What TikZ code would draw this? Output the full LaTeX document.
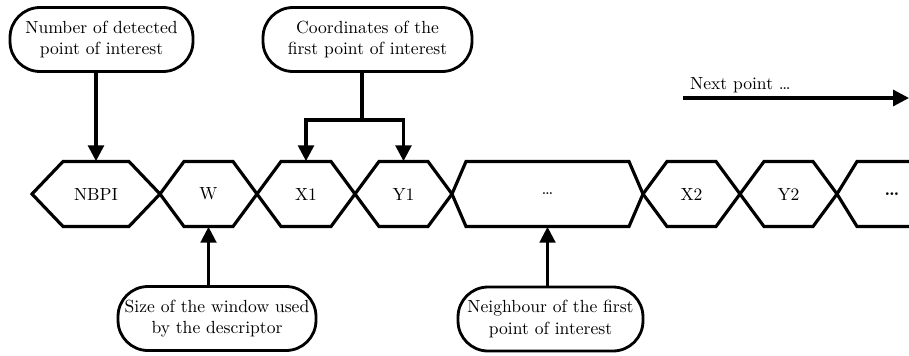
\documentclass[tikz,border=0pt]{standalone}
\usetikzlibrary{arrows.meta}

\tikzset{
    hexa/.style={line width=1.8pt},
    hexlabel/.style={minimum height=1.3cm,inner sep=0pt},
    bubble/.style={draw,line width=1.6pt,rounded corners=0.6cm,align=center,minimum height=1.28cm,inner sep=2pt},
    link/.style={line width=1.8pt,-{Triangle[length=9pt,width=9pt]}},
    thinlink/.style={link,line width=1.4pt},
}

\begin{document}
\begin{tikzpicture}[x=0.02cm,y=-0.02cm]
        \useasboundingbox (0,0) rectangle (909,355);
        % row of fields
        \foreach \n/\l/\r/\d/\t in {nbpi/32/160/31/NBPI,w/160/257/24/W,xa/257/355/24/X1,ya/355/452/24/Y1,nb/452/643/14/\ldots,xb/643/740/24/X2,yb/740/837/24/Y2}{
            \draw[hexa] (\l,194) -- (\l+\d,161.5) -- (\r-\d,161.5) -- (\r,194) -- (\r-\d,226.5) -- (\l+\d,226.5) -- cycle;
            \node[hexlabel] (\n) at ({(\l+\r)/2},194) {\t};
        }
        \draw[hexa] (909,161.5) -- (857,161.5) -- (837,194) -- (857,226.5) -- (909,226.5);
        \node[hexlabel] (more) at (892,194) {\textbf{\ldots}};
        % explanations
        \node[bubble,minimum width=3.66cm] (count) at (101.5,39.5) {Number of detected\\point of interest};
        \node[bubble,minimum width=4.18cm] (coord) at (367.5,39.5) {Coordinates of the\\first point of interest};
        \node[bubble,minimum width=3.96cm] (size) at (217,318.5) {Size of the window used\\by the descriptor};
        \node[bubble,minimum width=3.7cm] (neigh) at (550.5,319) {Neighbour of the first\\point of interest};
        \coordinate (split) at (362,120);
        \draw[link] (count.south -| nbpi) -- (nbpi);
        \draw[line width=1.8pt] (coord.south -| split) -- (split);
        \draw[link] (split) -| (xa);
        \draw[link] (split) -| (ya);
        \draw[thinlink] (size.north -| w) -- (w);
        \draw[thinlink] (neigh.north -| nb) -- (nb);
        % next point
        \coordinate (next-a) at (683,98);
        \coordinate (next-b) at (909,98);
        \draw[link] (next-a) -- (next-b);
        \node[anchor=south west,inner sep=1pt] (next) at (688,95) {Next point \ldots};
\end{tikzpicture}
\end{document}
